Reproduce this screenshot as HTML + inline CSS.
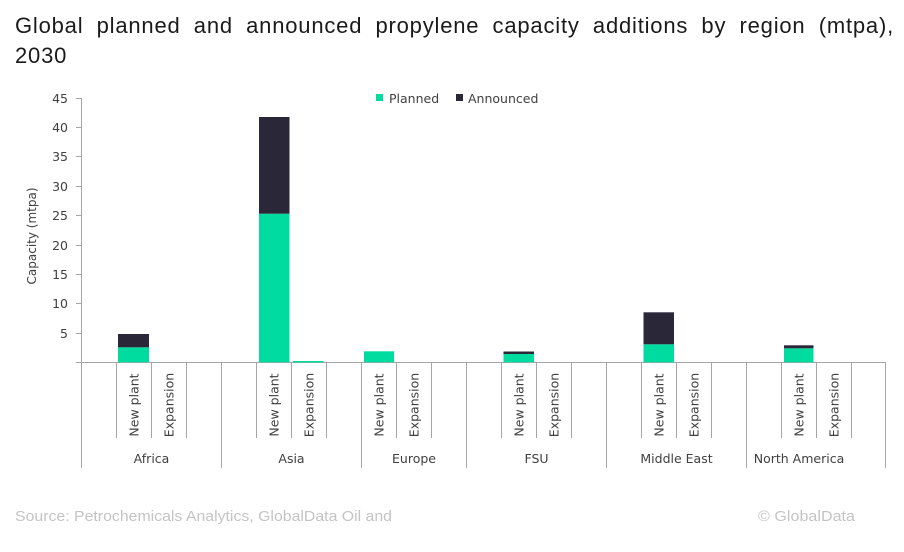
<!DOCTYPE html>
<html>
<head>
<meta charset="utf-8">
<style>
html,body{margin:0;padding:0;background:#fff;}
svg{display:block;}
.t1{position:absolute;left:15px;top:11px;width:879px;font-family:"Liberation Sans",sans-serif;font-size:22px;letter-spacing:0.8px;color:#1a1a1a;text-align:justify;text-align-last:justify;white-space:nowrap;line-height:30px;}
.t2{position:absolute;left:15px;top:41px;font-family:"Liberation Sans",sans-serif;font-size:22px;letter-spacing:0.8px;color:#1a1a1a;line-height:30px;}
</style>
</head>
<body>
<div style="position:relative;width:904px;height:552px;overflow:hidden;">
<svg width="904" height="552" viewBox="0 0 904 552" xmlns="http://www.w3.org/2000/svg" style="position:absolute;left:0;top:0;">
<rect width="904" height="552" fill="#fff"/>

<!-- Legend -->
<rect x="376" y="94" width="7" height="7" fill="#00DBA0"/>
<text x="389" y="103" font-family="DejaVu Sans, sans-serif" font-size="12.5" fill="#404040">Planned</text>
<rect x="456" y="94" width="7" height="7" fill="#2A2838"/>
<text x="468" y="103" font-family="DejaVu Sans, sans-serif" font-size="12.5" fill="#404040">Announced</text>

<!-- Y axis title -->
<text transform="translate(36,236) rotate(-90)" text-anchor="middle" font-family="DejaVu Sans, sans-serif" font-size="12" fill="#404040">Capacity (mtpa)</text>

<!-- Y axis -->
<g stroke="#a6a6a6" stroke-width="1" fill="none">
<line x1="81.5" y1="98" x2="81.5" y2="468"/>
<line x1="76" y1="362.5" x2="886" y2="362.5"/>
<line x1="76" y1="98.5" x2="81" y2="98.5"/>
<line x1="76" y1="127.5" x2="81" y2="127.5"/>
<line x1="76" y1="156.5" x2="81" y2="156.5"/>
<line x1="76" y1="186.5" x2="81" y2="186.5"/>
<line x1="76" y1="215.5" x2="81" y2="215.5"/>
<line x1="76" y1="245.5" x2="81" y2="245.5"/>
<line x1="76" y1="274.5" x2="81" y2="274.5"/>
<line x1="76" y1="303.5" x2="81" y2="303.5"/>
<line x1="76" y1="333.5" x2="81" y2="333.5"/>
</g>
<g font-family="DejaVu Sans, sans-serif" font-size="12.5" fill="#404040" text-anchor="end">
<text x="68" y="103">45</text>
<text x="68" y="132">40</text>
<text x="68" y="161">35</text>
<text x="68" y="191">30</text>
<text x="68" y="220">25</text>
<text x="68" y="250">20</text>
<text x="68" y="279">15</text>
<text x="68" y="308">10</text>
<text x="68" y="338">5</text>
</g>

<!-- Category separators -->
<g stroke="#a6a6a6" stroke-width="1">
<line x1="221.5" y1="362" x2="221.5" y2="468"/>
<line x1="361.5" y1="362" x2="361.5" y2="468"/>
<line x1="466.5" y1="362" x2="466.5" y2="468"/>
<line x1="606.5" y1="362" x2="606.5" y2="468"/>
<line x1="746.5" y1="362" x2="746.5" y2="468"/>
<line x1="885.5" y1="362" x2="885.5" y2="468"/>
<line x1="116.5" y1="362" x2="116.5" y2="438"/>
<line x1="151.5" y1="362" x2="151.5" y2="438"/>
<line x1="186.5" y1="362" x2="186.5" y2="438"/>
<line x1="256.5" y1="362" x2="256.5" y2="438"/>
<line x1="291.5" y1="362" x2="291.5" y2="438"/>
<line x1="326.5" y1="362" x2="326.5" y2="438"/>
<line x1="396.5" y1="362" x2="396.5" y2="438"/>
<line x1="431.5" y1="362" x2="431.5" y2="438"/>
<line x1="501.5" y1="362" x2="501.5" y2="438"/>
<line x1="536.5" y1="362" x2="536.5" y2="438"/>
<line x1="571.5" y1="362" x2="571.5" y2="438"/>
<line x1="641.5" y1="362" x2="641.5" y2="438"/>
<line x1="676.5" y1="362" x2="676.5" y2="438"/>
<line x1="711.5" y1="362" x2="711.5" y2="438"/>
<line x1="781.5" y1="362" x2="781.5" y2="438"/>
<line x1="816.5" y1="362" x2="816.5" y2="438"/>
<line x1="851.5" y1="362" x2="851.5" y2="438"/>
</g>

<!-- Bars -->
<rect x="118" y="347.3" width="31" height="15" fill="#00DBA0"/>
<rect x="118" y="334" width="31" height="13.3" fill="#2A2838"/>
<rect x="259" y="213.7" width="30.5" height="148.6" fill="#00DBA0"/>
<rect x="259" y="117" width="30.5" height="96.7" fill="#2A2838"/>
<rect x="293" y="361" width="30.5" height="1.5" fill="#00DBA0"/>
<rect x="364" y="351.3" width="30" height="11" fill="#00DBA0"/>
<rect x="503.5" y="354" width="30.5" height="8.3" fill="#00DBA0"/>
<rect x="503.5" y="351.5" width="30.5" height="2.5" fill="#2A2838"/>
<rect x="643.5" y="344.3" width="30.5" height="18" fill="#00DBA0"/>
<rect x="643.5" y="312.3" width="30.5" height="32" fill="#2A2838"/>
<rect x="784" y="348.3" width="29.5" height="14" fill="#00DBA0"/>
<rect x="784" y="345.3" width="29.5" height="3" fill="#2A2838"/>

<!-- Sub-category labels -->
<g font-family="DejaVu Sans, sans-serif" font-size="12.5" fill="#404040" text-anchor="middle">
<text transform="translate(138.5,405) rotate(-90)">New plant</text>
<text transform="translate(173.5,405) rotate(-90)">Expansion</text>
<text transform="translate(278.5,405) rotate(-90)">New plant</text>
<text transform="translate(313.5,405) rotate(-90)">Expansion</text>
<text transform="translate(383.5,405) rotate(-90)">New plant</text>
<text transform="translate(418.5,405) rotate(-90)">Expansion</text>
<text transform="translate(523.5,405) rotate(-90)">New plant</text>
<text transform="translate(558.5,405) rotate(-90)">Expansion</text>
<text transform="translate(663.5,405) rotate(-90)">New plant</text>
<text transform="translate(698.5,405) rotate(-90)">Expansion</text>
<text transform="translate(803.5,405) rotate(-90)">New plant</text>
<text transform="translate(838.5,405) rotate(-90)">Expansion</text>
</g>

<!-- Region labels -->
<g font-family="DejaVu Sans, sans-serif" font-size="12.5" fill="#404040" text-anchor="middle">
<text x="151.5" y="463">Africa</text>
<text x="291.5" y="463">Asia</text>
<text x="414" y="463">Europe</text>
<text x="536.5" y="463">FSU</text>
<text x="676.5" y="463">Middle East</text>
<text x="799" y="463">North America</text>
</g>

<!-- Footer -->
<text x="15" y="521" font-family="Liberation Sans, sans-serif" font-size="15" fill="#c4c4c4" textLength="377" lengthAdjust="spacingAndGlyphs">Source: Petrochemicals Analytics, GlobalData Oil and</text>
<text x="758" y="521" font-family="Liberation Sans, sans-serif" font-size="15" fill="#c4c4c4" textLength="97" lengthAdjust="spacingAndGlyphs">© GlobalData</text>
</svg>
<div class="t1">Global planned and announced propylene capacity additions by region (mtpa),</div>
<div class="t2">2030</div>
</div>
</body>
</html>
